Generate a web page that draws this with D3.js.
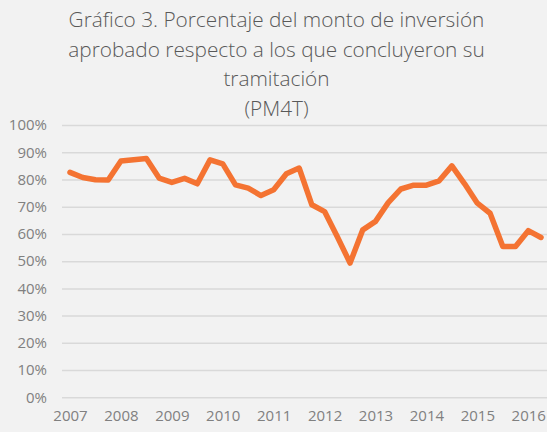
<!DOCTYPE html>
<html>
<head>
<meta charset="utf-8">
<script src="https://cdn.jsdelivr.net/npm/d3@7"></script>
<style>
  body { margin: 0; background: #f2f2f2; }
  svg { display: block; }
</style>
</head>
<body>
<script>
const width = 547,
    height = 432;

// quarterly values, 2007 Q1 .. 2016 Q2
const valores = [82.6, 80.7, 79.9, 79.8, 86.8, 87.2, 87.7, 80.5, 78.9, 80.4,
  78.4, 87.2, 85.7, 78.0, 76.8, 74.1, 76.2, 82.1, 84.2, 70.7,
  68.2, 59.0, 49.3, 61.5, 64.6, 71.5, 76.5, 77.9, 77.9, 79.5,
  85.0, 78.4, 71.3, 67.6, 55.4, 55.4, 61.2, 58.7];
const anios = ["2007", "2008", "2009", "2010", "2011", "2012", "2013", "2014", "2015", "2016"];
const yTicks = [0, 10, 20, 30, 40, 50, 60, 70, 80, 90, 100];
const titulo = ["Gráfico 3. Porcentaje del monto de inversión",
  "aprobado respecto a los que concluyeron su",
  "tramitación",
  "(PM4T)"];

const svg = d3.select("body").append("svg")
    .attr("width", width)
    .attr("height", height)
    .style("background", "#f2f2f2")
    .style("font-family", "'Open Sans', sans-serif");

const x = d3.scaleLinear().domain([0, valores.length - 1]).range([70, 541]);
const y = d3.scaleLinear().domain([0, 100]).range([397.3, 125]);

// title
svg.append("text")
    .attr("text-anchor", "middle")
    .style("fill", "#595959")
    .style("font-size", "20.8px")
    .style("font-weight", "300")
    .selectAll("tspan")
    .data(titulo)
    .enter().append("tspan")
    .attr("x", width / 2 + 3)
    .attr("y", (d, i) => 27 + i * 29.5)
    .text(d => d);

// y axis + gridlines
const yAxis = svg.append("g")
    .attr("transform", "translate(62,0)")
    .call(d3.axisLeft(y)
      .tickValues(yTicks)
      .tickSize(-(width - 62))
      .tickPadding(15)
      .tickFormat(d => d + "%"));
yAxis.select(".domain").remove();
yAxis.selectAll("line")
    .style("stroke", "#d9d9d9")
    .style("stroke-width", "1.5");
yAxis.selectAll("text")
    .style("fill", "#808080")
    .style("font-size", "15px")
    .style("font-family", "'Open Sans', sans-serif");

// x axis, a label at the first quarter of each year
const xAxis = svg.append("g")
    .attr("transform", "translate(0,397)")
    .call(d3.axisBottom(x)
      .tickValues(anios.map((d, i) => i * 4))
      .tickSize(0)
      .tickPadding(13)
      .tickFormat((d, i) => anios[i]));
xAxis.select(".domain").remove();
xAxis.selectAll("text")
    .style("fill", "#808080")
    .style("font-size", "15px")
    .style("font-family", "'Open Sans', sans-serif");

// line
const line = d3.line()
    .x((d, i) => x(i))
    .y(d => y(d));

svg.append("path")
    .datum(valores)
    .attr("d", line)
    .style("fill", "none")
    .style("stroke", "#f47332")
    .style("stroke-width", "5.5")
    .style("stroke-linejoin", "round")
    .style("stroke-linecap", "round");
</script>
</body>
</html>
